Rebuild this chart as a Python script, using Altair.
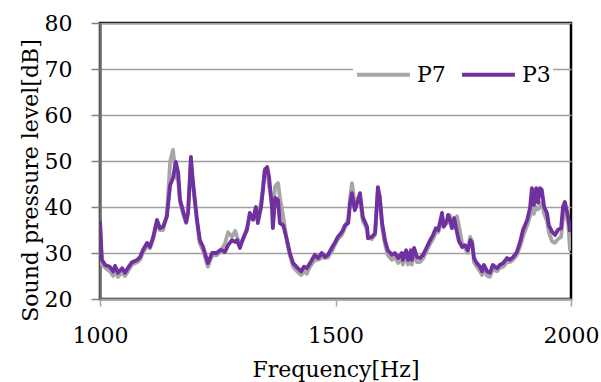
import altair as alt
import pandas as pd

freq = [1000, 1004, 1011, 1021, 1028, 1032, 1038, 1047, 1053, 1059, 1068, 1079, 1085, 1091, 1100, 1106, 1113, 1121, 1127, 1134,
        1142, 1149, 1155, 1161, 1166, 1170, 1176, 1183, 1187, 1193, 1197, 1206, 1212, 1219, 1229, 1238, 1248, 1255, 1259, 1265,
        1272, 1280, 1287, 1291, 1297, 1304, 1312, 1318, 1325, 1331, 1335, 1342, 1346, 1350, 1355, 1359, 1365, 1367, 1372, 1378,
        1382, 1389, 1397, 1403, 1410, 1420, 1427, 1433, 1439, 1446, 1456, 1463, 1471, 1478, 1484, 1493, 1499, 1505, 1514, 1520,
        1527, 1531, 1535, 1541, 1548, 1552, 1558, 1567, 1569, 1577, 1584, 1590, 1594, 1599, 1605, 1611, 1620, 1626, 1633, 1641,
        1643, 1650, 1654, 1660, 1662, 1667, 1673, 1679, 1686, 1694, 1701, 1707, 1713, 1718, 1724, 1726, 1730, 1737, 1739, 1743,
        1747, 1752, 1758, 1762, 1769, 1775, 1781, 1786, 1790, 1794, 1800, 1807, 1811, 1815, 1822, 1828, 1834, 1843, 1849, 1856,
        1864, 1870, 1877, 1885, 1892, 1898, 1907, 1913, 1917, 1921, 1926, 1930, 1934, 1938, 1943, 1949, 1953, 1960, 1966, 1972,
        1979, 1983, 1987, 1994, 1998]

p3 = [37.0, 28.5, 27.4, 27.0, 26.0, 27.2, 25.7, 26.7, 25.7, 26.7, 28.0, 28.5, 29.1, 30.6, 32.2, 31.3, 33.5, 37.2, 35.4, 35.7,
      37.9, 44.8, 46.3, 49.8, 47.4, 41.5, 39.3, 36.7, 38.7, 50.9, 45.9, 37.2, 32.8, 31.3, 27.8, 30.0, 30.0, 30.6, 30.6, 30.2,
      31.7, 32.8, 32.4, 32.8, 31.1, 33.2, 35.0, 38.7, 37.2, 40.0, 36.5, 40.0, 43.7, 48.0, 48.7, 46.5, 40.0, 35.4, 42.0, 41.5,
      36.5, 36.0, 32.8, 30.0, 27.8, 26.7, 26.0, 27.0, 26.7, 27.8, 29.6, 28.9, 30.0, 29.1, 29.6, 31.3, 32.3, 33.5, 34.6, 36.0,
      36.5, 40.9, 43.0, 39.3, 41.5, 43.0, 37.8, 35.7, 33.2, 33.5, 34.3, 44.3, 42.2, 36.5, 32.8, 30.6, 29.6, 30.0, 28.9, 30.0,
      28.5, 30.6, 28.5, 30.6, 28.5, 31.1, 29.1, 28.9, 29.6, 31.3, 32.8, 33.9, 35.4, 35.0, 37.6, 38.7, 35.7, 37.2, 38.3, 37.2,
      35.4, 37.6, 34.5, 32.6, 31.3, 31.7, 30.6, 32.8, 32.2, 28.9, 27.8, 27.0, 26.0, 27.4, 26.0, 25.7, 27.4, 26.7, 27.4, 27.8,
      28.9, 28.5, 29.1, 30.2, 32.4, 35.0, 37.2, 39.8, 44.1, 40.4, 44.1, 40.9, 44.1, 43.7, 40.0, 38.7, 36.0, 34.6, 33.9, 35.0,
      35.4, 40.0, 41.1, 37.8, 34.6]

p7 = [36.0, 27.5, 26.8, 26.0, 25.0, 26.5, 24.8, 25.8, 25.0, 26.0, 27.5, 28.0, 28.5, 30.0, 31.5, 31.0, 33.0, 36.5, 35.0, 35.0,
      38.5, 50.0, 52.4, 47.0, 45.5, 41.0, 38.5, 36.5, 39.0, 50.0, 45.0, 36.5, 32.0, 30.5, 27.0, 29.5, 29.5, 30.5, 31.0, 32.0,
      34.5, 33.5, 34.8, 33.5, 32.0, 33.0, 35.5, 38.0, 37.5, 39.5, 38.0, 41.0, 44.5, 48.3, 48.0, 44.5, 41.0, 40.0, 44.5, 45.2,
      42.0, 38.0, 32.5, 29.5, 27.0, 25.8, 25.2, 26.0, 25.5, 27.0, 28.5, 28.5, 29.0, 29.0, 29.0, 30.5, 31.8, 33.0, 34.0, 35.5,
      37.5, 42.0, 45.2, 40.5, 42.0, 41.5, 37.0, 35.0, 33.5, 33.0, 34.0, 43.5, 42.0, 35.5, 32.0, 29.5, 28.5, 29.0, 27.8, 29.0,
      27.5, 29.5, 27.5, 29.5, 27.5, 30.0, 28.0, 28.0, 28.8, 30.5, 32.0, 33.0, 34.5, 34.5, 36.5, 37.5, 36.0, 36.5, 37.5, 38.2,
      36.0, 35.5, 38.0, 36.0, 32.0, 31.0, 30.0, 33.5, 32.5, 28.0, 27.0, 26.0, 25.2, 26.5, 25.0, 24.8, 26.5, 26.0, 26.8, 27.0,
      28.0, 28.0, 28.5, 29.5, 31.5, 33.5, 36.0, 38.0, 39.5, 38.5, 40.0, 39.5, 40.0, 41.0, 38.5, 37.0, 34.5, 32.5, 32.2, 33.0,
      33.5, 37.5, 39.0, 36.5, 30.5]

series_names = ["P7", "P3"]
series_colors = ["#a6a6a6", "#7030a0"]

df = pd.concat([
    pd.DataFrame({"freq": freq, "spl": p7, "series": "P7"}),
    pd.DataFrame({"freq": freq, "spl": p3, "series": "P3"}),
])

FONT = "DejaVu Serif"

x_enc = alt.X("freq:Q",
              scale=alt.Scale(domain=[1000, 2000], nice=False, zero=False),
              axis=alt.Axis(title="Frequency[Hz]", values=[1000, 1500, 2000], format="d", grid=False,
                            tickSize=7, tickColor="#a6a6a6", tickWidth=1.5,
                            domainColor="#a6a6a6", domainWidth=2,
                            labelFont=FONT, labelFontSize=22, labelColor="black",
                            labelPadding=19, labelFlush=False, labelOverlap=False,
                            titleFont=FONT, titleFontSize=22, titleFontWeight="normal",
                            titleColor="black", titleY=77, titleBaseline="alphabetic"))
y_enc = alt.Y("spl:Q",
              scale=alt.Scale(domain=[20, 80], nice=False, zero=False),
              axis=alt.Axis(title="Sound pressure level[dB]", values=[20, 30, 40, 50, 60, 70, 80],
                            format="d",
                            grid=True, gridColor="#a0a0a0", gridWidth=1.5,
                            tickSize=9, tickColor="#808080", tickWidth=1.5,
                            domainColor="#707070", domainWidth=2.5,
                            labelFont=FONT, labelFontSize=22, labelColor="black",
                            labelPadding=19,
                            titleFont=FONT, titleFontSize=22, titleFontWeight="normal",
                            titleColor="black", titleAngle=-90, titleX=-63, titleY=157,
                            titleAlign="center", titleBaseline="alphabetic"))
color_enc = alt.Color("series:N",
                      scale=alt.Scale(domain=series_names, range=series_colors),
                      legend=alt.Legend(title=None, orient="none", direction="horizontal",
                                        legendX=253, legendY=21, padding=2,
                                        fillColor="white", symbolType="stroke",
                                        symbolSize=2800, symbolStrokeWidth=4,
                                        labelFont=FONT, labelFontSize=22, labelColor="black",
                                        labelOffset=5, columnPadding=8))

base = alt.Chart(df).mark_line(strokeWidth=3.8, strokeJoin="round", clip=True).encode(
    x=x_enc, y=y_enc, color=color_enc, order=alt.Order("freq:Q"))

gray = base.transform_filter(alt.datum.series == "P7")
purple = base.transform_filter(alt.datum.series == "P3")

chart = alt.layer(gray, purple).properties(
    width=471, height=276,
    autosize=alt.AutoSizeParams(type="none"),
    padding={"left": 100, "top": 23, "right": 30, "bottom": 83},
).configure_view(stroke="black", strokeWidth=2.5)

chart.save("out.html", embed_options={"renderer": "svg", "actions": False})
